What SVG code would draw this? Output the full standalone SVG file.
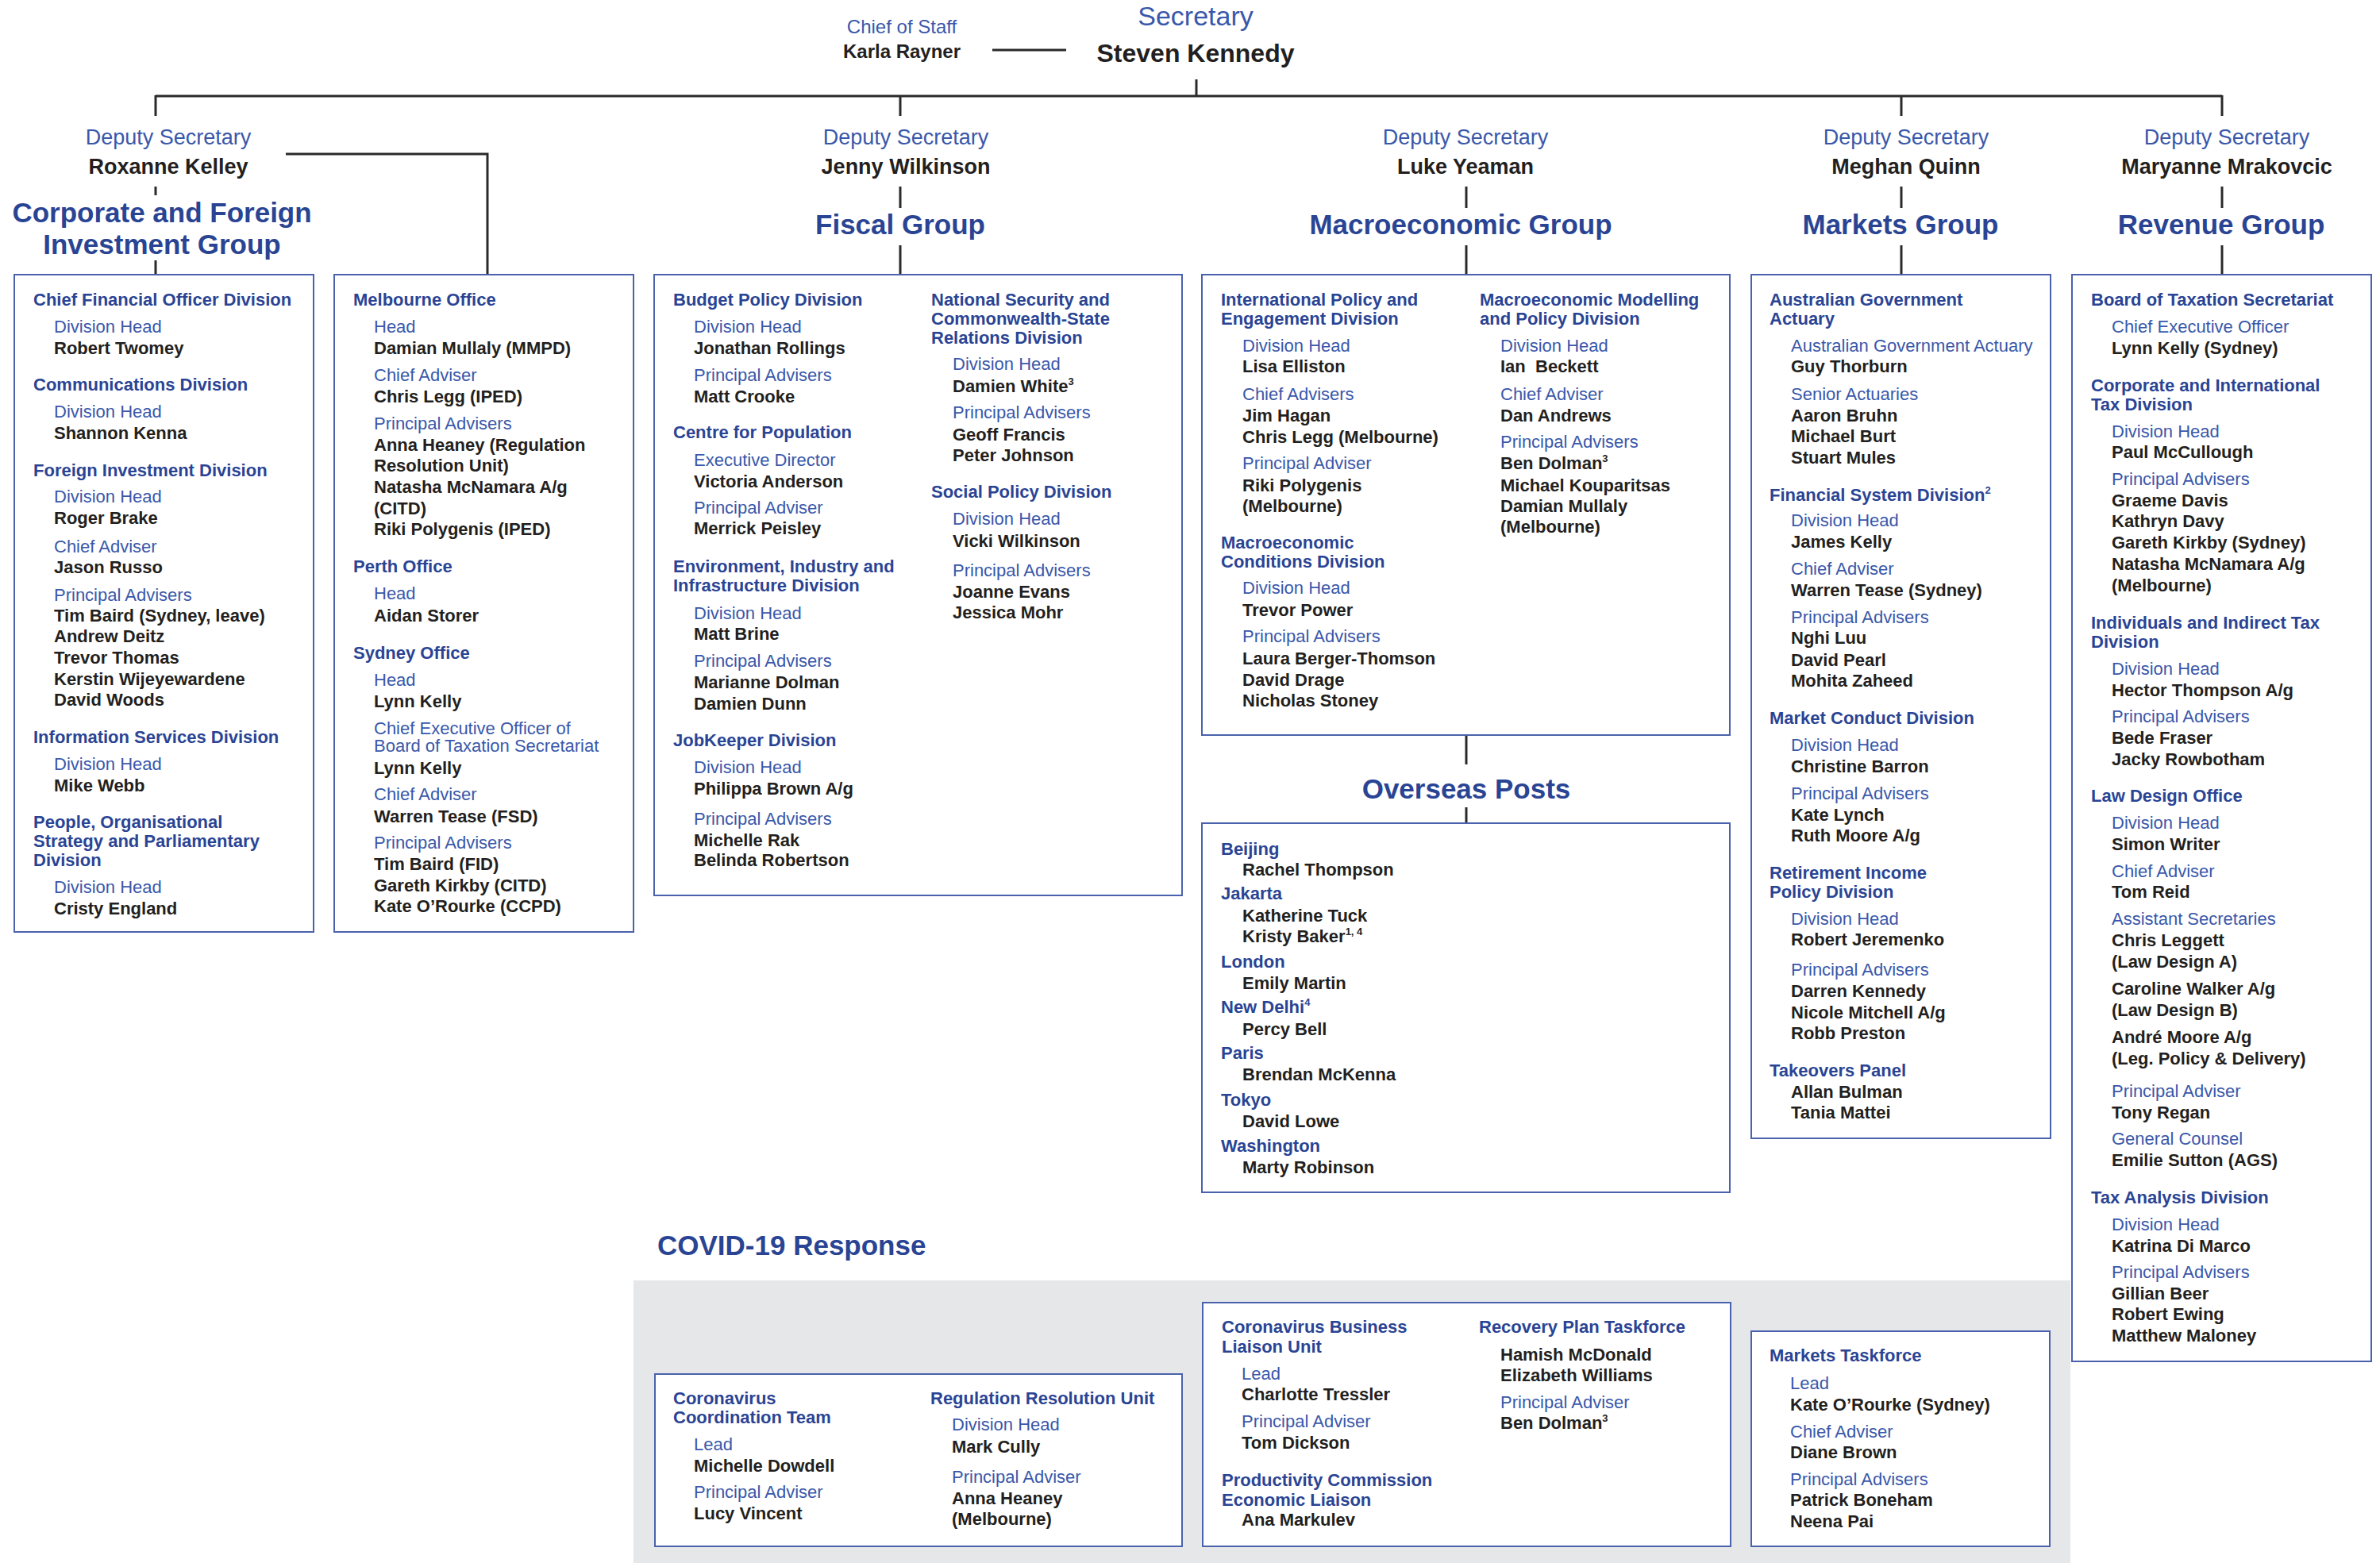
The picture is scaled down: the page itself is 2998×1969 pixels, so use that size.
<svg xmlns="http://www.w3.org/2000/svg" width="2998" height="1969" viewBox="0 0 2998 1969">
<style>
text{font-family:"Liberation Sans",Arial,Helvetica,sans-serif}
.h{font-weight:bold;font-size:22px;fill:#2a4494}
.l{font-size:22px;fill:#3a58aa}
.n{font-weight:bold;font-size:22px;fill:#231f20}
.g{font-weight:bold;font-size:35px;fill:#2a4494;text-anchor:middle}
.ds{font-size:27px;fill:#3a58aa;text-anchor:middle}
.dn{font-weight:bold;font-size:27px;fill:#231f20;text-anchor:middle}
.box{fill:#fff;stroke:#4a62ad;stroke-width:2}
.con{stroke:#2a2a2a;stroke-width:3;fill:none}
.sup{font-size:13px}
</style>
<rect width="2998" height="1969" fill="#fff"/>
<rect x="798" y="1613" width="1810" height="356" fill="#e6e7e8"/>

<g id="connectors">
<line class="con" x1="1250" y1="63" x2="1343" y2="63"/>
<line class="con" x1="1507" y1="100" x2="1507" y2="121"/>
<line class="con" x1="196" y1="121" x2="2799" y2="121"/>
<line class="con" x1="196" y1="120" x2="196" y2="146"/>
<line class="con" x1="1134" y1="120" x2="1134" y2="146"/>
<line class="con" x1="2395" y1="120" x2="2395" y2="146"/>
<line class="con" x1="2799" y1="120" x2="2799" y2="146"/>
<line class="con" x1="196" y1="235" x2="196" y2="246"/>
<line class="con" x1="196" y1="328" x2="196" y2="346"/>
<polyline class="con" points="360,194 614,194 614,346"/>
<line class="con" x1="1134" y1="235" x2="1134" y2="262"/>
<line class="con" x1="1134" y1="309" x2="1134" y2="346"/>
<line class="con" x1="1847" y1="235" x2="1847" y2="262"/>
<line class="con" x1="1847" y1="309" x2="1847" y2="346"/>
<line class="con" x1="1847" y1="926" x2="1847" y2="963"/>
<line class="con" x1="1847" y1="1017" x2="1847" y2="1037"/>
<line class="con" x1="2395" y1="235" x2="2395" y2="262"/>
<line class="con" x1="2395" y1="309" x2="2395" y2="346"/>
<line class="con" x1="2799" y1="235" x2="2799" y2="262"/>
<line class="con" x1="2799" y1="309" x2="2799" y2="346"/>
</g>

<g id="secretary">
<text x="1506" y="32" style="font-size:34px;fill:#3a58aa;text-anchor:middle">Secretary</text>
<text x="1506" y="78" style="font-size:32px;font-weight:bold;fill:#231f20;text-anchor:middle">Steven Kennedy</text>
</g>
<g id="chief-of-staff">
<text x="1136" y="42" style="font-size:24px;fill:#3a58aa;text-anchor:middle">Chief of Staff</text>
<text x="1136" y="73" style="font-size:24px;font-weight:bold;fill:#231f20;text-anchor:middle">Karla Rayner</text>
</g>

<g id="ds-kelley">
<text class="ds" x="212" y="182">Deputy Secretary</text>
<text class="dn" x="212" y="219">Roxanne Kelley</text>
<text class="g" x="204" y="280">Corporate and Foreign</text>
<text class="g" x="204" y="320">Investment Group</text>
</g>
<g id="ds-wilkinson">
<text class="ds" x="1141" y="182">Deputy Secretary</text>
<text class="dn" x="1141" y="219">Jenny Wilkinson</text>
<text class="g" x="1134" y="295">Fiscal Group</text>
</g>
<g id="ds-yeaman">
<text class="ds" x="1846" y="182">Deputy Secretary</text>
<text class="dn" x="1846" y="219">Luke Yeaman</text>
<text class="g" x="1840" y="295">Macroeconomic Group</text>
</g>
<g id="ds-quinn">
<text class="ds" x="2401" y="182">Deputy Secretary</text>
<text class="dn" x="2401" y="219">Meghan Quinn</text>
<text class="g" x="2394" y="295">Markets Group</text>
</g>
<g id="ds-mrakovcic">
<text class="ds" x="2805" y="182">Deputy Secretary</text>
<text class="dn" x="2805" y="219">Maryanne Mrakovcic</text>
<text class="g" x="2798" y="295">Revenue Group</text>
</g>

<g id="corporate-box">
<rect class="box" x="18" y="346" width="377" height="828"/>
<text class="h" x="42" y="385">Chief Financial Officer Division</text>
<text class="l" x="68" y="419">Division Head</text>
<text class="n" x="68" y="446">Robert Twomey</text>
<text class="h" x="42" y="492">Communications Division</text>
<text class="l" x="68" y="526">Division Head</text>
<text class="n" x="68" y="553">Shannon Kenna</text>
<text class="h" x="42" y="600">Foreign Investment Division</text>
<text class="l" x="68" y="633">Division Head</text>
<text class="n" x="68" y="660">Roger Brake</text>
<text class="l" x="68" y="696">Chief Adviser</text>
<text class="n" x="68" y="722">Jason Russo</text>
<text class="l" x="68" y="757">Principal Advisers</text>
<text class="n" x="68" y="783">Tim Baird (Sydney, leave)</text>
<text class="n" x="68" y="809">Andrew Deitz</text>
<text class="n" x="68" y="836">Trevor Thomas</text>
<text class="n" x="68" y="863">Kerstin Wijeyewardene</text>
<text class="n" x="68" y="889">David Woods</text>
<text class="h" x="42" y="936">Information Services Division</text>
<text class="l" x="68" y="970">Division Head</text>
<text class="n" x="68" y="997">Mike Webb</text>
<text class="h" x="42" y="1043">People, Organisational</text>
<text class="h" x="42" y="1067">Strategy and Parliamentary</text>
<text class="h" x="42" y="1091">Division</text>
<text class="l" x="68" y="1125">Division Head</text>
<text class="n" x="68" y="1152">Cristy England</text>
</g>

<g id="offices-box">
<rect class="box" x="421" y="346" width="377" height="828"/>
<text class="h" x="445" y="385">Melbourne Office</text>
<text class="l" x="471" y="419">Head</text>
<text class="n" x="471" y="446">Damian Mullaly (MMPD)</text>
<text class="l" x="471" y="480">Chief Adviser</text>
<text class="n" x="471" y="507">Chris Legg (IPED)</text>
<text class="l" x="471" y="541">Principal Advisers</text>
<text class="n" x="471" y="568">Anna Heaney (Regulation</text>
<text class="n" x="471" y="594">Resolution Unit)</text>
<text class="n" x="471" y="621">Natasha McNamara A/g</text>
<text class="n" x="471" y="648">(CITD)</text>
<text class="n" x="471" y="674">Riki Polygenis (IPED)</text>
<text class="h" x="445" y="721">Perth Office</text>
<text class="l" x="471" y="755">Head</text>
<text class="n" x="471" y="783">Aidan Storer</text>
<text class="h" x="445" y="830">Sydney Office</text>
<text class="l" x="471" y="864">Head</text>
<text class="n" x="471" y="891">Lynn Kelly</text>
<text class="l" x="471" y="925">Chief Executive Officer of</text>
<text class="l" x="471" y="947">Board of Taxation Secretariat</text>
<text class="n" x="471" y="975">Lynn Kelly</text>
<text class="l" x="471" y="1008">Chief Adviser</text>
<text class="n" x="471" y="1036">Warren Tease (FSD)</text>
<text class="l" x="471" y="1069">Principal Advisers</text>
<text class="n" x="471" y="1096">Tim Baird (FID)</text>
<text class="n" x="471" y="1123">Gareth Kirkby (CITD)</text>
<text class="n" x="471" y="1149">Kate O’Rourke (CCPD)</text>
</g>

<g id="fiscal-box">
<rect class="box" x="824" y="346" width="665" height="782"/>
<text class="h" x="848" y="385">Budget Policy Division</text>
<text class="l" x="874" y="419">Division Head</text>
<text class="n" x="874" y="446">Jonathan Rollings</text>
<text class="l" x="874" y="480">Principal Advisers</text>
<text class="n" x="874" y="507">Matt Crooke</text>
<text class="h" x="848" y="552">Centre for Population</text>
<text class="l" x="874" y="587">Executive Director</text>
<text class="n" x="874" y="614">Victoria Anderson</text>
<text class="l" x="874" y="647">Principal Adviser</text>
<text class="n" x="874" y="673">Merrick Peisley</text>
<text class="h" x="848" y="721">Environment, Industry and</text>
<text class="h" x="848" y="745">Infrastructure Division</text>
<text class="l" x="874" y="780">Division Head</text>
<text class="n" x="874" y="806">Matt Brine</text>
<text class="l" x="874" y="840">Principal Advisers</text>
<text class="n" x="874" y="867">Marianne Dolman</text>
<text class="n" x="874" y="894">Damien Dunn</text>
<text class="h" x="848" y="940">JobKeeper Division</text>
<text class="l" x="874" y="974">Division Head</text>
<text class="n" x="874" y="1001">Philippa Brown A/g</text>
<text class="l" x="874" y="1039">Principal Advisers</text>
<text class="n" x="874" y="1066">Michelle Rak</text>
<text class="n" x="874" y="1091">Belinda Robertson</text>
<text class="h" x="1173" y="385">National Security and</text>
<text class="h" x="1173" y="409">Commonwealth-State</text>
<text class="h" x="1173" y="433">Relations Division</text>
<text class="l" x="1200" y="466">Division Head</text>
<text class="n" x="1200" y="494">Damien White<tspan class="sup" dy="-9">3</tspan></text>
<text class="l" x="1200" y="527">Principal Advisers</text>
<text class="n" x="1200" y="555">Geoff Francis</text>
<text class="n" x="1200" y="581">Peter Johnson</text>
<text class="h" x="1173" y="627">Social Policy Division</text>
<text class="l" x="1200" y="661">Division Head</text>
<text class="n" x="1200" y="689">Vicki Wilkinson</text>
<text class="l" x="1200" y="726">Principal Advisers</text>
<text class="n" x="1200" y="753">Joanne Evans</text>
<text class="n" x="1200" y="779">Jessica Mohr</text>
</g>

<g id="macro-box">
<rect class="box" x="1514" y="346" width="665" height="580"/>
<text class="h" x="1538" y="385">International Policy and</text>
<text class="h" x="1538" y="409">Engagement Division</text>
<text class="l" x="1565" y="443">Division Head</text>
<text class="n" x="1565" y="469">Lisa Elliston</text>
<text class="l" x="1565" y="504">Chief Advisers</text>
<text class="n" x="1565" y="531">Jim Hagan</text>
<text class="n" x="1565" y="558">Chris Legg (Melbourne)</text>
<text class="l" x="1565" y="591">Principal Adviser</text>
<text class="n" x="1565" y="619">Riki Polygenis</text>
<text class="n" x="1565" y="645">(Melbourne)</text>
<text class="h" x="1538" y="691">Macroeconomic</text>
<text class="h" x="1538" y="715">Conditions Division</text>
<text class="l" x="1565" y="748">Division Head</text>
<text class="n" x="1565" y="776">Trevor Power</text>
<text class="l" x="1565" y="809">Principal Advisers</text>
<text class="n" x="1565" y="837">Laura Berger-Thomson</text>
<text class="n" x="1565" y="864">David Drage</text>
<text class="n" x="1565" y="890">Nicholas Stoney</text>
<text class="h" x="1864" y="385">Macroeconomic Modelling</text>
<text class="h" x="1864" y="409">and Policy Division</text>
<text class="l" x="1890" y="443">Division Head</text>
<text class="n" x="1890" y="469" xml:space="preserve">Ian  Beckett</text>
<text class="l" x="1890" y="504">Chief Adviser</text>
<text class="n" x="1890" y="531">Dan Andrews</text>
<text class="l" x="1890" y="564">Principal Advisers</text>
<text class="n" x="1890" y="591">Ben Dolman<tspan class="sup" dy="-9">3</tspan></text>
<text class="n" x="1890" y="619">Michael Kouparitsas</text>
<text class="n" x="1890" y="645">Damian Mullaly</text>
<text class="n" x="1890" y="671">(Melbourne)</text>
</g>

<g id="overseas-posts">
<text class="g" x="1847" y="1006">Overseas Posts</text>
<rect class="box" x="1514" y="1037" width="665" height="465"/>
<text class="h" x="1538" y="1077">Beijing</text>
<text class="n" x="1565" y="1103">Rachel Thompson</text>
<text class="h" x="1538" y="1133">Jakarta</text>
<text class="n" x="1565" y="1161">Katherine Tuck</text>
<text class="n" x="1565" y="1187">Kristy Baker<tspan class="sup" dy="-9">1, 4</tspan></text>
<text class="h" x="1538" y="1219">London</text>
<text class="n" x="1565" y="1246">Emily Martin</text>
<text class="h" x="1538" y="1276">New Delhi<tspan class="sup" dy="-9">4</tspan></text>
<text class="n" x="1565" y="1304">Percy Bell</text>
<text class="h" x="1538" y="1334">Paris</text>
<text class="n" x="1565" y="1361">Brendan McKenna</text>
<text class="h" x="1538" y="1393">Tokyo</text>
<text class="n" x="1565" y="1420">David Lowe</text>
<text class="h" x="1538" y="1451">Washington</text>
<text class="n" x="1565" y="1478">Marty Robinson</text>
</g>

<g id="markets-box">
<rect class="box" x="2206" y="346" width="377" height="1088"/>
<text class="h" x="2229" y="385">Australian Government</text>
<text class="h" x="2229" y="409">Actuary</text>
<text class="l" x="2256" y="443">Australian Government Actuary</text>
<text class="n" x="2256" y="469">Guy Thorburn</text>
<text class="l" x="2256" y="504">Senior Actuaries</text>
<text class="n" x="2256" y="531">Aaron Bruhn</text>
<text class="n" x="2256" y="557">Michael Burt</text>
<text class="n" x="2256" y="584">Stuart Mules</text>
<text class="h" x="2229" y="631">Financial System Division<tspan class="sup" dy="-9">2</tspan></text>
<text class="l" x="2256" y="663">Division Head</text>
<text class="n" x="2256" y="690">James Kelly</text>
<text class="l" x="2256" y="724">Chief Adviser</text>
<text class="n" x="2256" y="751">Warren Tease (Sydney)</text>
<text class="l" x="2256" y="785">Principal Advisers</text>
<text class="n" x="2256" y="811">Nghi Luu</text>
<text class="n" x="2256" y="839">David Pearl</text>
<text class="n" x="2256" y="865">Mohita Zaheed</text>
<text class="h" x="2229" y="912">Market Conduct Division</text>
<text class="l" x="2256" y="946">Division Head</text>
<text class="n" x="2256" y="973">Christine Barron</text>
<text class="l" x="2256" y="1007">Principal Advisers</text>
<text class="n" x="2256" y="1034">Kate Lynch</text>
<text class="n" x="2256" y="1060">Ruth Moore A/g</text>
<text class="h" x="2229" y="1107">Retirement Income</text>
<text class="h" x="2229" y="1131">Policy Division</text>
<text class="l" x="2256" y="1165">Division Head</text>
<text class="n" x="2256" y="1191">Robert Jeremenko</text>
<text class="l" x="2256" y="1229">Principal Advisers</text>
<text class="n" x="2256" y="1256">Darren Kennedy</text>
<text class="n" x="2256" y="1283">Nicole Mitchell A/g</text>
<text class="n" x="2256" y="1309">Robb Preston</text>
<text class="h" x="2229" y="1356">Takeovers Panel</text>
<text class="n" x="2256" y="1383">Allan Bulman</text>
<text class="n" x="2256" y="1409">Tania Mattei</text>
</g>

<g id="revenue-box">
<rect class="box" x="2610" y="346" width="377" height="1369"/>
<text class="h" x="2634" y="385">Board of Taxation Secretariat</text>
<text class="l" x="2660" y="419">Chief Executive Officer</text>
<text class="n" x="2660" y="446">Lynn Kelly (Sydney)</text>
<text class="h" x="2634" y="493">Corporate and International</text>
<text class="h" x="2634" y="517">Tax Division</text>
<text class="l" x="2660" y="551">Division Head</text>
<text class="n" x="2660" y="577">Paul McCullough</text>
<text class="l" x="2660" y="611">Principal Advisers</text>
<text class="n" x="2660" y="638">Graeme Davis</text>
<text class="n" x="2660" y="664">Kathryn Davy</text>
<text class="n" x="2660" y="691">Gareth Kirkby (Sydney)</text>
<text class="n" x="2660" y="718">Natasha McNamara A/g</text>
<text class="n" x="2660" y="745">(Melbourne)</text>
<text class="h" x="2634" y="792">Individuals and Indirect Tax</text>
<text class="h" x="2634" y="816">Division</text>
<text class="l" x="2660" y="850">Division Head</text>
<text class="n" x="2660" y="877">Hector Thompson A/g</text>
<text class="l" x="2660" y="910">Principal Advisers</text>
<text class="n" x="2660" y="937">Bede Fraser</text>
<text class="n" x="2660" y="964">Jacky Rowbotham</text>
<text class="h" x="2634" y="1010">Law Design Office</text>
<text class="l" x="2660" y="1044">Division Head</text>
<text class="n" x="2660" y="1071">Simon Writer</text>
<text class="l" x="2660" y="1105">Chief Adviser</text>
<text class="n" x="2660" y="1131">Tom Reid</text>
<text class="l" x="2660" y="1165">Assistant Secretaries</text>
<text class="n" x="2660" y="1192">Chris Leggett</text>
<text class="n" x="2660" y="1219">(Law Design A)</text>
<text class="n" x="2660" y="1253">Caroline Walker A/g</text>
<text class="n" x="2660" y="1280">(Law Design B)</text>
<text class="n" x="2660" y="1314">André Moore A/g</text>
<text class="n" x="2660" y="1341">(Leg. Policy &amp; Delivery)</text>
<text class="l" x="2660" y="1382">Principal Adviser</text>
<text class="n" x="2660" y="1409">Tony Regan</text>
<text class="l" x="2660" y="1442">General Counsel</text>
<text class="n" x="2660" y="1469">Emilie Sutton (AGS)</text>
<text class="h" x="2634" y="1516">Tax Analysis Division</text>
<text class="l" x="2660" y="1550">Division Head</text>
<text class="n" x="2660" y="1577">Katrina Di Marco</text>
<text class="l" x="2660" y="1610">Principal Advisers</text>
<text class="n" x="2660" y="1637">Gillian Beer</text>
<text class="n" x="2660" y="1663">Robert Ewing</text>
<text class="n" x="2660" y="1690">Matthew Maloney</text>
</g>

<g id="covid-title">
<text x="828" y="1581" style="font-weight:bold;font-size:35px;fill:#2a4494">COVID-19 Response</text>
</g>

<g id="covid-coordination-box">
<rect class="box" x="825" y="1731" width="664" height="217"/>
<text class="h" x="848" y="1769">Coronavirus</text>
<text class="h" x="848" y="1793">Coordination Team</text>
<text class="l" x="874" y="1827">Lead</text>
<text class="n" x="874" y="1854">Michelle Dowdell</text>
<text class="l" x="874" y="1887">Principal Adviser</text>
<text class="n" x="874" y="1914">Lucy Vincent</text>
<text class="h" x="1172" y="1769">Regulation Resolution Unit</text>
<text class="l" x="1199" y="1802">Division Head</text>
<text class="n" x="1199" y="1830">Mark Cully</text>
<text class="l" x="1199" y="1868">Principal Adviser</text>
<text class="n" x="1199" y="1895">Anna Heaney</text>
<text class="n" x="1199" y="1921">(Melbourne)</text>
</g>

<g id="covid-business-box">
<rect class="box" x="1515" y="1641" width="665" height="307"/>
<text class="h" x="1539" y="1679">Coronavirus Business</text>
<text class="h" x="1539" y="1704">Liaison Unit</text>
<text class="l" x="1564" y="1738">Lead</text>
<text class="n" x="1564" y="1764">Charlotte Tressler</text>
<text class="l" x="1564" y="1798">Principal Adviser</text>
<text class="n" x="1564" y="1825">Tom Dickson</text>
<text class="h" x="1539" y="1872">Productivity Commission</text>
<text class="h" x="1539" y="1897">Economic Liaison</text>
<text class="n" x="1564" y="1922">Ana Markulev</text>
<text class="h" x="1863" y="1679">Recovery Plan Taskforce</text>
<text class="n" x="1890" y="1714">Hamish McDonald</text>
<text class="n" x="1890" y="1740">Elizabeth Williams</text>
<text class="l" x="1890" y="1774">Principal Adviser</text>
<text class="n" x="1890" y="1800">Ben Dolman<tspan class="sup" dy="-9">3</tspan></text>
</g>

<g id="markets-taskforce-box">
<rect class="box" x="2206" y="1677" width="376" height="271"/>
<text class="h" x="2229" y="1715">Markets Taskforce</text>
<text class="l" x="2255" y="1750">Lead</text>
<text class="n" x="2255" y="1777">Kate O’Rourke (Sydney)</text>
<text class="l" x="2255" y="1811">Chief Adviser</text>
<text class="n" x="2255" y="1837">Diane Brown</text>
<text class="l" x="2255" y="1871">Principal Advisers</text>
<text class="n" x="2255" y="1897">Patrick Boneham</text>
<text class="n" x="2255" y="1924">Neena Pai</text>
</g>
</svg>
